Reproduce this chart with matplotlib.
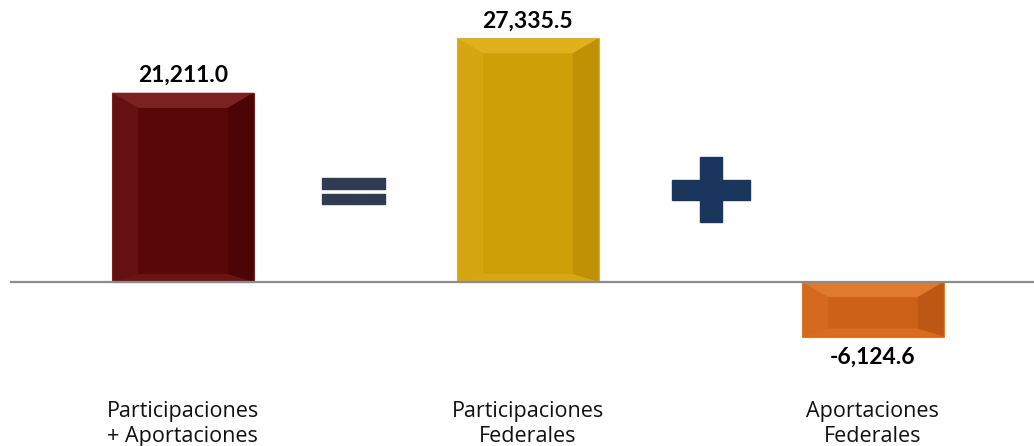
import matplotlib.pyplot as plt
from matplotlib.patches import Polygon, Rectangle

categorias = ['Participaciones\n+ Aportaciones', 'Participaciones\nFederales', 'Aportaciones\nFederales']
valores = [21211.0, 27335.5, -6124.6]
etiquetas = ['21,211.0', '27,335.5', '-6,124.6']

# color base, bisel claro, bisel oscuro
colores = ['#5a0707', '#cf9f07', '#cd6118']
claros = ['#7a2222', '#dfb11c', '#e07a2e']
oscuros = ['#4c0505', '#c09104', '#be5713']

plt.rcParams['font.family'] = ['Lato', 'DejaVu Sans']

fig = plt.figure(figsize=(10.34, 4.46), dpi=100)
ax = fig.add_axes([0, 0, 1, 1])
ax.set_xlim(-0.530, 2.467)
ax.set_ylim(-18385, 31610)
ax.axis('off')

x = range(len(valores))
bars = ax.bar(x, valores, width=0.41, color=colores, zorder=2)

# bisel de cada barra
for b, c, cl, os_ in zip(bars, colores, claros, oscuros):
    x0, w = b.get_x(), b.get_width()
    y0, h = b.get_y(), b.get_height()
    y1 = y0 + h
    lo, hi = min(y0, y1), max(y0, y1)
    dx = 0.075
    dy_top = min(1700, (hi - lo) * 0.3)
    dy_bot = min(900, (hi - lo) * 0.15)
    xi0, xi1 = x0 + dx, x0 + w - dx
    top = Polygon([(x0, hi), (x0 + w, hi), (xi1, hi - dy_top), (xi0, hi - dy_top)],
                  color=cl, zorder=3, lw=0)
    left = Polygon([(x0, hi), (xi0, hi - dy_top), (xi0, lo + dy_bot), (x0, lo)],
                   color=cl, alpha=0.4, zorder=3, lw=0)
    right = Polygon([(x0 + w, hi), (xi1, hi - dy_top), (xi1, lo + dy_bot), (x0 + w, lo)],
                    color=os_, zorder=3, lw=0)
    bot = Polygon([(x0, lo), (x0 + w, lo), (xi1, lo + dy_bot), (xi0, lo + dy_bot)],
                  color=cl, alpha=0.5, zorder=3, lw=0)
    for p in (top, left, right, bot):
        ax.add_patch(p)
    ax.add_patch(Rectangle((x0, lo), w, hi - lo, fill=False, ec=cl, lw=0.8, zorder=4))

ax.axhline(0, xmin=0.0106, xmax=1, color='#8c8c8c', lw=1.6, zorder=5)

for i, (v, t) in enumerate(zip(valores, etiquetas)):
    if v >= 0:
        ax.text(i, v + 750, t, ha='center', va='bottom', fontsize=16.5, fontweight='bold')
    else:
        ax.text(i, v - 1150, t, ha='center', va='top', fontsize=16.5, fontweight='bold')

for i, c in enumerate(categorias):
    ax.text(i, -13300, c, ha='center', va='top', fontsize=15.5, linespacing=1.25,
            color='#111111', family=['Open Sans', 'DejaVu Sans'])

# signos = y +
t = ax.transAxes
W, H = 1034, 446
ax.add_patch(Rectangle((322 / W, 1 - 189 / H), 63 / W, 11 / H, transform=t, color='#2e3b52', zorder=3))
ax.add_patch(Rectangle((322 / W, 1 - 204 / H), 63 / W, 10 / H, transform=t, color='#2e3b52', zorder=3))
ax.add_patch(Rectangle((700 / W, 1 - 222 / H), 22 / W, 65 / H, transform=t, color='#1b365d', zorder=3))
ax.add_patch(Rectangle((672 / W, 1 - 200 / H), 78 / W, 20 / H, transform=t, color='#1b365d', zorder=3))

fig.savefig('out.png', dpi=100)
